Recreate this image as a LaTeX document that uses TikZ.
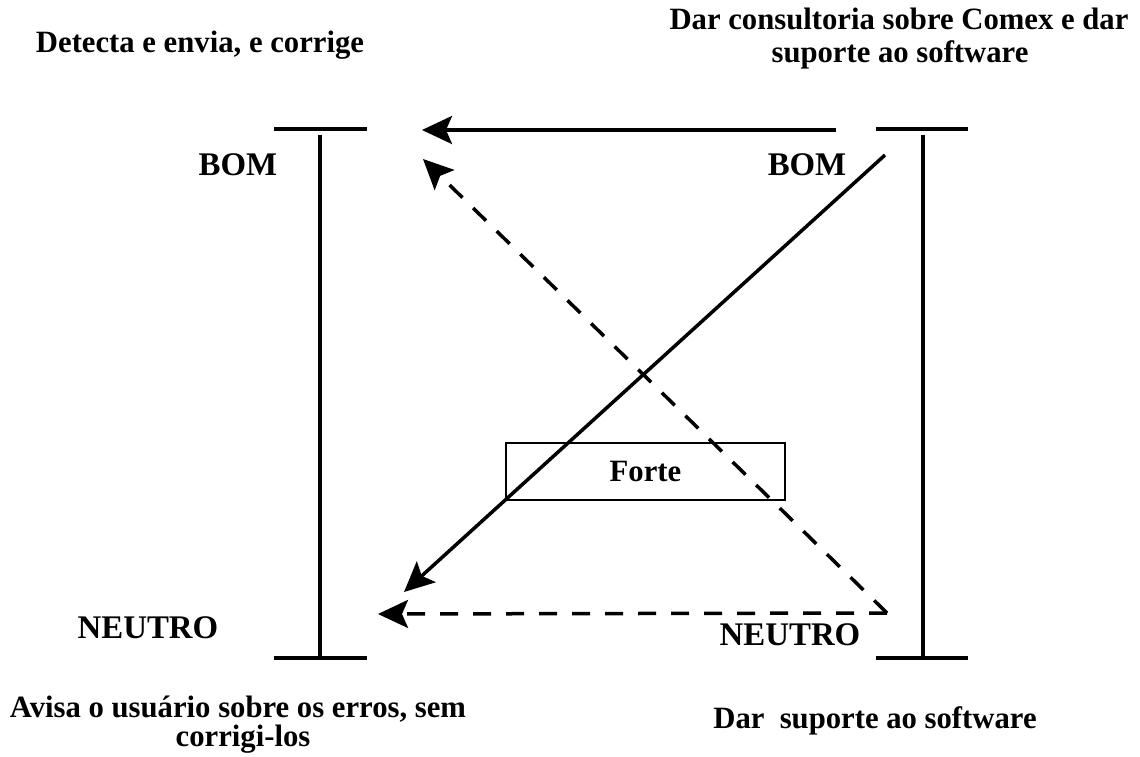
\documentclass[tikz,border=0pt]{standalone}
\usepackage{fontspec}
\setmainfont{Liberation Serif}[FakeStretch=0.99]
\newfontfamily\lblfont{Liberation Serif}[FakeStretch=0.996]
\usetikzlibrary{arrows.meta}
\begin{document}
\begin{tikzpicture}[x=1pt,y=-1pt,
  txt/.style={font=\fontsize{31}{34}\selectfont\bfseries, inner sep=0pt, anchor=base},
  lbl/.style={font=\lblfont\fontsize{33}{36}\selectfont\bfseries, inner sep=0pt, anchor=base},
  bar/.style={line width=4pt},
  conn/.style={line width=3.5pt, -{Stealth[length=30pt,width=28pt,inset=6pt]}},
  dsh/.style={conn, dash pattern=on 18pt off 15pt},
  boxst/.style={draw, line width=1.5pt, minimum width=279pt, minimum height=57pt, inner sep=0pt, font=\fontsize{31}{34}\selectfont\bfseries}]
\useasboundingbox (0,0) rectangle (1140,756);
% texts
\node[txt] (tl) at (200,52) {Detecta e envia, e corrige};
\node[txt] (tr1) at (899,29) {Dar consultoria sobre Comex e dar};
\node[txt] (tr2) at (900,62) {suporte ao software};
\node[txt] (bl1) at (238,717) {Avisa o usuário sobre os erros, sem};
\node[txt] (bl2) at (243,746) {corrigi-los};
\node[txt] (br) at (875,728) {Dar\ \ suporte ao software};
\node[lbl] (bomL) at (238,175) {BOM};
\node[lbl] (bomR) at (807,175) {BOM};
\node[lbl] (neuL) at (148,638) {NEUTRO};
\node[lbl] (neuR) at (790,645) {NEUTRO};
% scales
\draw[bar] (274,129) -- (367,129);
\draw[bar] (320,135) -- (320,658);
\draw[bar] (274,658) -- (367,658);
\draw[bar] (876,129) -- (968,129);
\draw[bar] (923,135) -- (923,658);
\draw[bar] (876,658) -- (968,658);
% box
\node[boxst] (forte) at (645.5,471.5) {Forte};
% connector end points
\coordinate (a1s) at (836,130);
\coordinate (a1e) at (422,130);
\coordinate (a2s) at (885,155);
\coordinate (a2e) at (404,592);
\coordinate (v) at (887,613);
\coordinate (a3e) at (423,159);
\coordinate (a4e) at (378,614);
\draw[conn] (a1s) -- (a1e);
\draw[conn] (a2s) -- (a2e);
\draw[dsh] (v) -- (a3e);
\draw[dsh] (v) -- (a4e);
\end{tikzpicture}
\end{document}
